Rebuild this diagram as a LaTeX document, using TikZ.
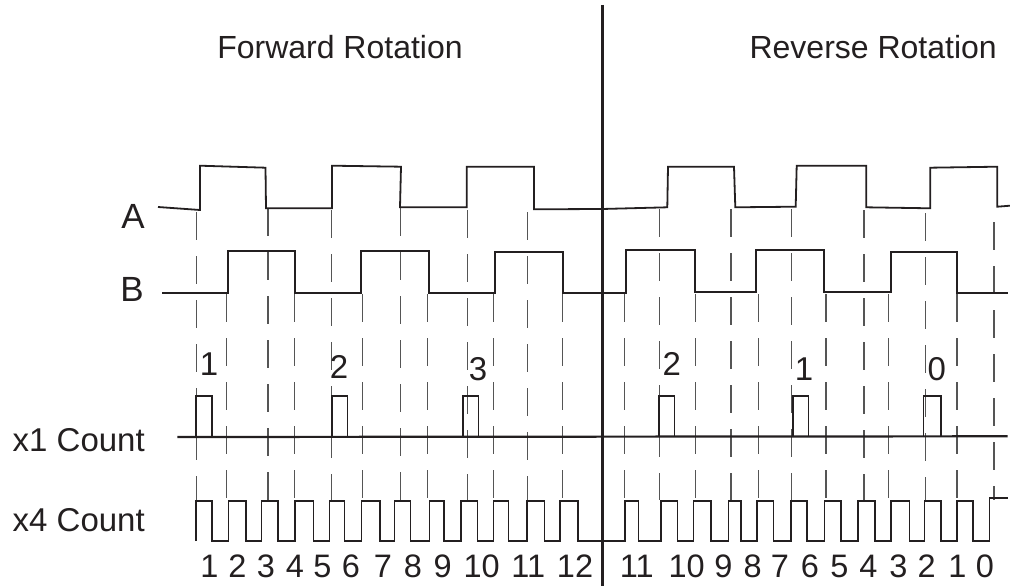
\documentclass[tikz,border=0pt]{standalone}
\usepackage{fontspec}
\setmainfont{Liberation Sans}
\definecolor{ink}{HTML}{231F20}
\definecolor{dashink}{HTML}{555555}
\begin{document}
\begin{tikzpicture}[x=1pt,y=-1pt,
  signal/.style={draw=ink,line width=1.8pt,line join=miter},
  countline/.style={draw=ink,line width=2.2pt},
  guide/.style={draw=dashink,line width=1.2pt,dash pattern=on 28pt off 16pt},
  divider/.style={draw=ink,line width=3.8pt},
  title/.style={font=\fontsize{32}{36}\selectfont,text=ink,inner sep=0pt},
  rowlabel/.style={font=\fontsize{33}{38}\selectfont,text=ink,inner sep=0pt,anchor=base east},
  siglabel/.style={font=\fontsize{35}{40}\selectfont,text=ink,inner sep=0pt,anchor=base east},
  cnt/.style={font=\fontsize{33}{38}\selectfont,text=ink,inner sep=0pt,anchor=base},
  num/.style={font=\fontsize{32.5}{37}\selectfont,text=ink,inner sep=0pt,anchor=base}]
\useasboundingbox (0,0) rectangle (1010,586);
% dashed guide lines (A edges)
\foreach \gx/\gy in {196.7/212,268/208,331.7/210,400.7/208,467.3/210,527.7/212,
                     659.7/209,731/209,791.7/209,864/210,925.7/213,994/222}
  \draw[guide] (\gx,\gy) -- (\gx,500);
% dashed guide lines (B edges)
\foreach \gx in {226.7,294.7,362.7,427.7,493.3,562.7,624.7,695.7,758.7,826,888.7,957}
  \draw[guide] (\gx,294) -- (\gx,500);
% signal A
\draw[signal] (158,207) -- (200,210) -- (200,165.7) -- (265.5,167.7) -- (266,208.3)
  -- (332,208.3) -- (332,165.7) -- (401,166.7) -- (400,207.3) -- (466.7,207.3)
  -- (466.7,166.7) -- (534,166.7) -- (534,209.3) -- (602,209) -- (667.3,207.3)
  -- (668,166.7) -- (734,166.7) -- (735.3,207.3) -- (795.7,206.7) -- (796.7,165.7)
  -- (866.3,165.7) -- (866.3,207.3) -- (930.3,208.3) -- (930.3,167.7) -- (997.3,166.7)
  -- (997.3,206.7) -- (1010,205.7);
% signal B
\draw[signal] (162,292.7) -- (227.7,292.7) -- (227.7,250.7) -- (295.3,250.7) -- (295.3,292.7)
  -- (361.3,292.7) -- (361.3,250.7) -- (428.7,250.7) -- (428.7,293.3) -- (495.3,293.3)
  -- (495.3,251.7) -- (562.7,251.7) -- (562.7,293.3) -- (625.7,293.3) -- (625.7,250)
  -- (695,250) -- (695,291.7) -- (756.3,291.7) -- (756.3,250) -- (824.3,250)
  -- (824.3,291.7) -- (890.7,291.7) -- (890.7,251.7) -- (957.3,251.7) -- (957.3,292.7)
  -- (1008.3,292.7);
% x1 count
\draw[countline] (177.3,437) -- (1007.7,436.3);
\foreach \pa/\pb in {195.7/211.7,331.7/347.3,462.7/478.3,659/674.3,792.7/808.3,923.3/941}
  \draw[draw=ink,line width=1.6pt] (\pa,437) -- (\pa,396) -- (\pb,396) -- (\pb,437);
% x4 count
\draw[signal,line width=1.6pt] (195.7,541) -- (195.7,500.7)
  \foreach \r/\f in {212/228.3,246/261.3,278/294.7,313.3/329.3,344.3/361.3,380/394.3,
                     410.3/429.3,443.7/460.7,477.3/493.3,508.3/526.7,544.3/560}
    { -- (\r,500.7) -- (\r,541) -- (\f,541) -- (\f,500.7) }
  -- (577.7,500.7) -- (577.7,541) -- (624.7,541) -- (624.7,500.7)
  \foreach \r/\f in {638.3/661,677.3/693.3,710.7/728.3,741/756.7,773.3/791,806.7/824.3,
                     840.7/857.7,875/890.7,909.3/924.3,940.7/956.7,972.7/989.3}
    { -- (\r,500.7) -- (\r,540.7) -- (\f,540.7) -- (\f,500.7) }
  ;
\draw[signal,line width=1.6pt] (989.3,500.7) -- (989.3,497.7) -- (1007.7,497.7);
% divider
\draw[divider] (602.5,5) -- (602.5,586);
% titles
\node[title,anchor=base] (fwd) at (340,58.3) {Forward Rotation};
\node[title,anchor=base east] (rev) at (997,58.3) {Reverse Rotation};
% row labels
\node[siglabel] (la) at (145,228.3) {A};
\node[siglabel] (lb) at (144,301.7) {B};
\node[rowlabel] (lx1) at (145,451.7) {x1 Count};
\node[rowlabel] (lx4) at (145,531.7) {x4 Count};
% x1 count labels
\node[cnt] (c1) at (209,375) {1};
\node[cnt] (c2) at (339,378.3) {2};
\node[cnt] (c3) at (478,380) {3};
\node[cnt] (c4) at (671.7,375) {2};
\node[cnt] (c5) at (804,380) {1};
\node[cnt] (c6) at (936.7,380) {0};
% x4 count numbers
\foreach \nx/\nt [count=\i] in {209.5/1,237.5/2,265.8/3,295/4,322.5/5,350.8/6,383/7,413/8,442.7/9,
     481.7/10,528.3/11,575/12,636.7/11,686.7/10,723.3/9,752.7/8,780/7,810/6,839.3/5,
     868.3/4,898.3/3,926.7/2,957.5/1,985/0}
  \node[num] (n\i) at (\nx,577) {\nt};
\end{tikzpicture}
\end{document}
